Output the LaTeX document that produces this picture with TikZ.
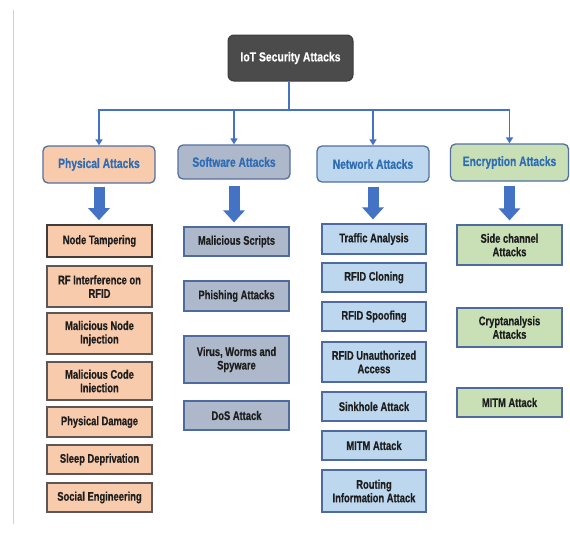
\documentclass[tikz,border=0pt]{standalone}
\usepackage{fontspec}
\setmainfont{Liberation Sans}
\newfontfamily\subfont{Liberation Sans}[FakeStretch=0.75,FakeBold=0.5]
\newfontfamily\catfont{Liberation Sans}[FakeStretch=0.76,FakeBold=0.5]
\newfontfamily\topfont{Liberation Sans}[FakeStretch=0.8,FakeBold=0.4]
\usetikzlibrary{arrows.meta}
\definecolor{conn}{HTML}{4472C4}
\definecolor{topfill}{HTML}{4B4B4B}
\definecolor{physfill}{HTML}{F8CBAD}
\definecolor{softfill}{HTML}{ADB9CA}
\definecolor{netfill}{HTML}{BDD7EE}
\definecolor{encfill}{HTML}{C9E0B6}
\definecolor{catborder}{HTML}{5470A0}
\definecolor{cattext}{HTML}{2E6DB4}
\definecolor{physborder}{HTML}{5E5654}
\definecolor{subborder}{HTML}{4F6A9E}
\definecolor{subtext}{HTML}{1E1E1E}
\tikzset{
  topbox/.style={draw=topfill!80!black, fill=topfill, rounded corners=6pt, line width=1pt,
    text=white, font=\topfont\fontsize{13}{15}\selectfont\bfseries, minimum width=125pt, minimum height=46pt, inner sep=1pt},
  catbox/.style={draw=catborder, line width=1.3pt, rounded corners=5pt, text=cattext,
    font=\catfont\fontsize{13.5}{15}\selectfont\bfseries, minimum width=112pt, inner sep=1pt},
  subbox/.style={draw=subborder, line width=1.2pt, text=subtext, align=center,
    font=\subfont\fontsize{12.5}{13.5}\selectfont\bfseries, minimum width=105pt, inner sep=1pt},
  physsub/.style={subbox, fill=physfill, draw=physborder},
  softsub/.style={subbox, fill=softfill},
  netsub/.style={subbox, fill=netfill},
  encsub/.style={subbox, fill=encfill},
  thinconn/.style={draw=conn, line width=1.6pt, -{Triangle[width=7pt,length=6pt]}},
  busline/.style={draw=conn, line width=1.6pt},
  bigarrow/.style={draw=conn, line width=11pt, -{Triangle[width=21pt,length=12pt]}},
}
\begin{document}
\begin{tikzpicture}[x=1pt,y=-1pt]
\useasboundingbox (0,0) rectangle (570,544);
\fill[white] (0,0) rectangle (570,544);
\draw[black!18, line width=1pt] (13,10) -- (13,524);

% top
\node[topbox] (top) at (290.5,58) {IoT Security Attacks};
\coordinate (bus) at (289,110);

% categories
\node[catbox, fill=physfill, minimum height=37pt] (phys) at (99,164.5) {Physical Attacks};
\node[catbox, fill=softfill, minimum height=34pt] (soft) at (234,162) {Software Attacks};
\node[catbox, fill=netfill, minimum height=36pt] (net) at (373,164) {Network Attacks};
\node[catbox, fill=encfill, minimum height=37pt, minimum width=118pt] (enc) at (509.5,162.5) {Encryption Attacks};

\draw[busline] (top.south -| bus) -- (bus);
\draw[thinconn] (bus) -| (phys.north);
\draw[thinconn] (bus) -| (soft.north);
\draw[thinconn] (bus) -| (net.north);
\draw[thinconn] (bus) -| (enc.north);

% physical subs
\node[physsub, minimum height=32pt, line width=1.6pt, draw=physborder!70!black] (p1) at (99.5,241) {Node Tampering};
\node[physsub, minimum height=41pt] (p2) at (99.5,286.5) {RF Interference on\\RFID};
\node[physsub, minimum height=41pt] (p3) at (99.5,333.5) {Malicious Node\\Injection};
\node[physsub, minimum height=38pt] (p4) at (99.5,381) {Malicious Code\\Iniection};
\node[physsub, minimum height=30pt] (p5) at (99.5,422) {Physical Damage};
\node[physsub, minimum height=29pt] (p6) at (99.5,459.5) {Sleep Deprivation};
\node[physsub, minimum height=29pt] (p7) at (99.5,497.5) {Social Engineering};

% software subs
\node[softsub, minimum height=29pt] (s1) at (236.5,241.5) {Malicious Scripts};
\node[softsub, minimum height=30pt] (s2) at (236.5,296) {Phishing Attacks};
\node[softsub, minimum height=47pt] (s3) at (236.5,359.5) {Virus, Worms and\\Spyware};
\node[softsub, minimum height=29pt] (s4) at (236.5,415.5) {DoS Attack};

% network subs
\node[netsub, minimum height=30pt, minimum width=104pt] (n1) at (374,239) {Traffic Analysis};
\node[netsub, minimum height=29pt, minimum width=104pt] (n2) at (374,277.5) {RFID Cloning};
\node[netsub, minimum height=29pt, minimum width=104pt] (n3) at (374,316.5) {RFID Spoofing};
\node[netsub, minimum height=40pt, minimum width=104pt] (n4) at (374,362) {RFID Unauthorized\\Access};
\node[netsub, minimum height=29pt, minimum width=104pt] (n5) at (374,406.5) {Sinkhole Attack};
\node[netsub, minimum height=29pt, minimum width=104pt] (n6) at (374,445.5) {MITM Attack};
\node[netsub, minimum height=42pt, minimum width=104pt] (n7) at (374,491) {Routing\\Information Attack};

% encryption subs
\node[encsub, minimum height=40pt] (e1) at (509.5,245) {Side channel\\Attacks};
\node[encsub, minimum height=39pt] (e2) at (509.5,327.5) {Cryptanalysis\\Attacks};
\node[encsub, minimum height=29pt] (e3) at (509.5,402.5) {MITM Attack};

% thick arrows
\draw[bigarrow] ([yshift=-3pt]phys.south) -- ([yshift=4pt]phys.south |- p1.north);
\draw[bigarrow] ([yshift=-6pt]soft.south) -- ([yshift=4pt]soft.south |- s1.north);
\draw[bigarrow] ([yshift=-4pt]net.south) -- ([yshift=4pt]net.south |- n1.north);
\draw[bigarrow] ([yshift=-4pt]enc.south) -- ([yshift=4pt]enc.south |- e1.north);
\end{tikzpicture}
\end{document}
